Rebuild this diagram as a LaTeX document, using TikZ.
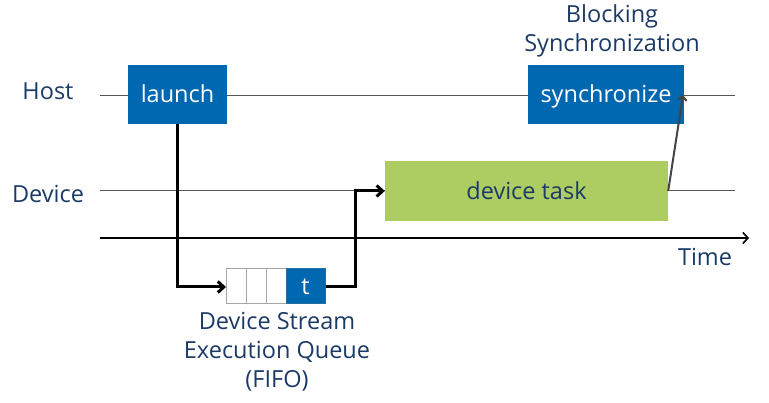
\documentclass[tikz,border=0pt]{standalone}
\usepackage{fontspec}
\setmainfont{Open Sans}
\usetikzlibrary{arrows.meta}
\definecolor{navy}{HTML}{1B3A66}
\definecolor{boxblue}{HTML}{0067B1}
\definecolor{taskgreen}{HTML}{ADCC62}
\definecolor{linegray}{HTML}{555555}
\tikzset{
  lbl/.style={text=navy, font=\fontsize{23.5}{29}\selectfont, inner sep=0pt, align=center},
  bluebox/.style={fill=boxblue, text=white, font=\fontsize{23.5}{29}\selectfont, inner sep=0pt, text height=22pt, text depth=5pt},
  timeline/.style={draw=linegray, line width=1pt},
  flow/.style={draw=black, line width=3pt, -{Straight Barb[length=6pt,width=11pt,line width=3pt]}},
  cell/.style={draw=gray!70, line width=1pt, fill=white, minimum width=20pt, minimum height=35pt, inner sep=0pt},
}
\begin{document}
\begin{tikzpicture}[x=1pt,y=-1pt]
\useasboundingbox (0,0) rectangle (769,403);
% timelines
\coordinate (hs) at (100,96); \coordinate (he) at (735,96);
\coordinate (ds) at (100,191); \coordinate (de) at (735,191);
\coordinate (ts) at (100,238); \coordinate (te) at (749,238);
\draw[timeline] (hs) -- (he);
\draw[timeline] (ds) -- (de);
\draw[black, line width=1.6pt, -{Straight Barb[length=5pt,width=11pt,line width=1.6pt]}] (ts) -- (te);
% labels
\node[lbl] (host) at (48,91) {Host};
\node[lbl] (device) at (48,194) {Device};
\node[lbl] (time) at (705,257) {Time};
\node[lbl] (blocking) at (612,31) {Blocking\\Synchronization};
% boxes
\node[bluebox, minimum width=99pt, minimum height=59pt] (launch) at (177.5,94.5) {launch};
\node[bluebox, minimum width=156pt, minimum height=59pt] (sync) at (606,94.5) {synchronize};
\node[fill=taskgreen, text=navy, font=\fontsize{23.5}{29}\selectfont, text height=22pt, text depth=5pt, minimum width=283pt, minimum height=60pt, inner sep=0pt] (task) at (526.5,191) {device task};
% queue
\node[cell] (c1) at (236.5,286.5) {};
\node[cell] (c2) at (256.5,286.5) {};
\node[cell] (c3) at (276.5,286.5) {};
\node[cell, fill=boxblue, draw=boxblue!70!gray, minimum width=39pt, text=white, font=\fontsize{23.5}{29}\selectfont] (t) at (305.5,286.5) {t};
\node[lbl] (queue) at (277,352) {Device Stream\\Execution Queue\\(FIFO)};
% flows
\draw[flow] (launch.south -| 177,0) -- (177,287) -- (c1.west |- 0,287);
\draw[flow] (t.east |- 0,287) -- (355,287) -- (355,191) -- (task.west);
\draw[draw=linegray!80!black, line width=2pt, -{Straight Barb[length=4pt,width=9pt,line width=2pt]}] (task.east) -- (683,95);
\end{tikzpicture}
\end{document}
